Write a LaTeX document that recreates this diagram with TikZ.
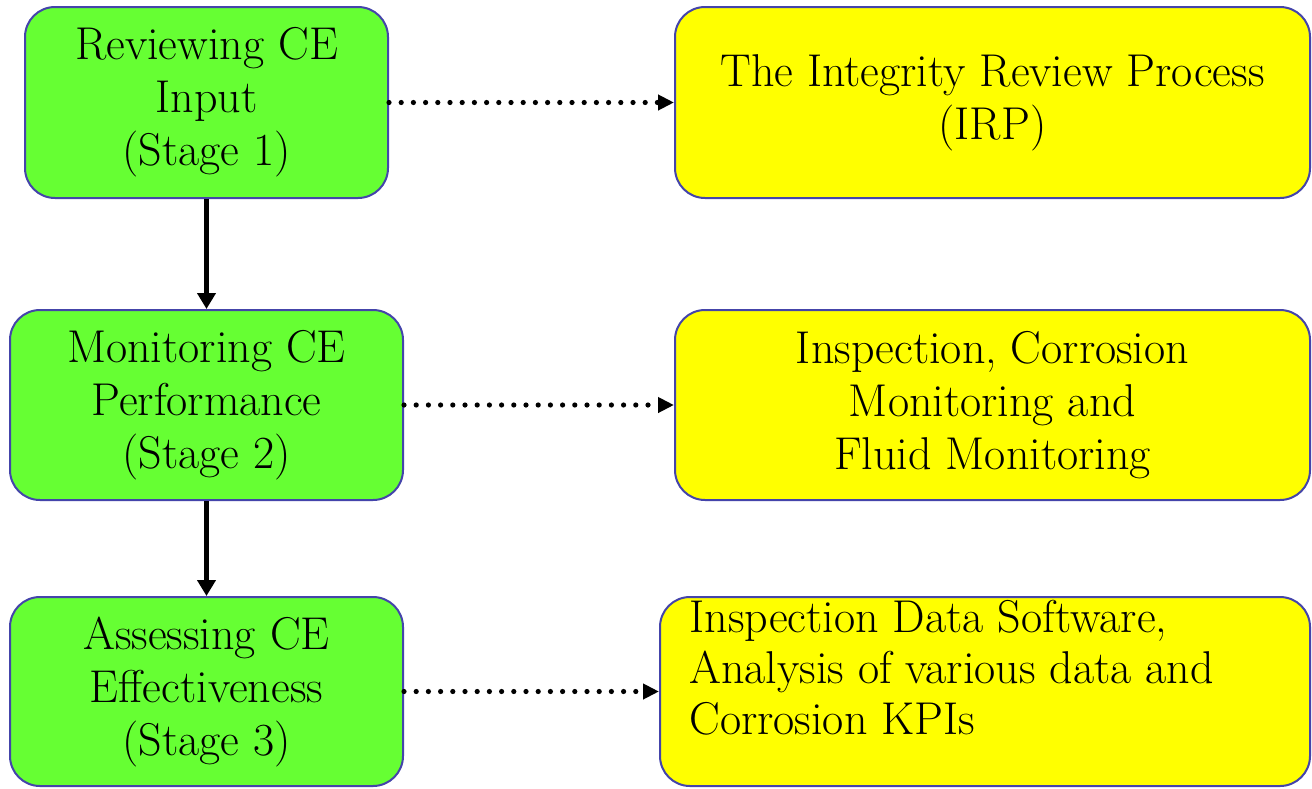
\documentclass[tikz,border=0pt]{standalone}
\usetikzlibrary{arrows.meta}
\definecolor{boxgreen}{HTML}{66FF33}
\definecolor{boxyellow}{HTML}{FFFF00}
\definecolor{boxedge}{HTML}{4444AA}
\begin{document}
\begin{tikzpicture}[x=0.5pt,y=-0.5pt,
  box/.style={draw=boxedge, line width=1pt, rounded corners=15pt, inner sep=0pt,
    align=center, font=\fontsize{23}{26.5}\selectfont},
  gbox/.style={box, fill=boxgreen},
  ybox/.style={box, fill=boxyellow},
  flow/.style={line width=2.5pt, -{Triangle[length=8pt,width=9pt]}},
  link/.style={line width=2.6pt, line cap=round, dash pattern=on 0pt off 6.1pt,
    -{Triangle[length=8pt,width=7.5pt]}, shorten <=0pt}]
\useasboundingbox (0,0) rectangle (1312,788);
\fill[white] (0,0) rectangle (1312,788);
% green boxes
\node[gbox, minimum width=181.5pt, minimum height=95.5pt] (g1) at (206.5,102.5)
  {Reviewing CE\\Input\\(Stage 1)};
\node[gbox, minimum width=196.5pt, minimum height=95pt] (g2) at (206.5,405)
  {Monitoring CE\\Performance\\(Stage 2)};
\node[gbox, minimum width=196.5pt, minimum height=94.5pt] (g3) at (206.5,691.5)
  {Assessing CE\\Effectiveness\\(Stage 3)};
% yellow boxes
\node[ybox, minimum width=317.5pt, minimum height=95.5pt] (y1) at (992.5,102.5)
  {The Integrity Review Process\\(IRP)};
\node[ybox, minimum width=317.5pt, minimum height=95pt] (y2) at (992.5,405)
  {Inspection, Corrosion\\Monitoring and\\Fluid Monitoring};
\node[ybox, minimum width=325pt, minimum height=94.5pt] (y3) at (985,691.5) {};
\node[anchor=north west, inner sep=0pt, align=left,
  font=\fontsize{23}{25.5}\selectfont] (t3) at (689,600)
  {Inspection Data Software,\\Analysis of various data and\\Corrosion KPIs};
% flow arrows
\draw[flow] (g1.south) -- (g2.north);
\draw[flow] (g2.south) -- (g3.north);
% dotted links
\draw[link] (g1.east) -- (y1.west);
\draw[link] (g2.east) -- (y2.west);
\draw[link] (g3.east) -- (y3.west);
\end{tikzpicture}
\end{document}
